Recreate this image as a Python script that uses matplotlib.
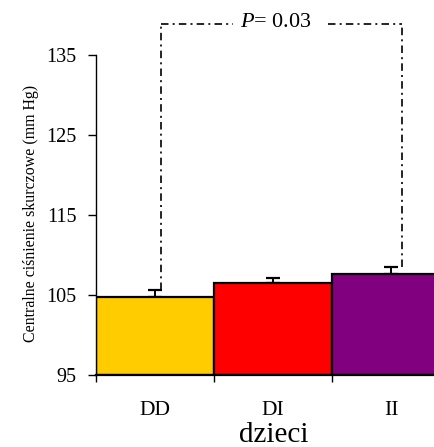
import matplotlib
matplotlib.use("Agg")
import matplotlib.pyplot as plt
import numpy as np

categories = ["DD", "DI", "II"]
values = [104.75, 106.45, 107.6]
errors = [0.85, 0.65, 0.9]
colors = ["#FFCC00", "#FF0000", "#800080"]
p_text = "0.03"

plt.rcParams["font.family"] = ["Liberation Serif", "DejaVu Serif"]
plt.rcParams["mathtext.fontset"] = "custom"
plt.rcParams["mathtext.it"] = "Liberation Serif:italic"
plt.rcParams["mathtext.rm"] = "Liberation Serif"

fig = plt.figure(figsize=(4.34, 4.47), dpi=100)
W, H = 434, 447
x0, x1 = 96, 450
y0, y1 = 375, 7
ax = fig.add_axes([x0 / W, (H - y0) / H, (x1 - x0) / W, (y0 - y1) / H])

x = np.arange(len(categories))
ax.bar(x, [v - 95 for v in values], bottom=95, width=1.0, color=colors,
       edgecolor="black", linewidth=1.6, zorder=2)
ax.errorbar(x, values, yerr=[np.zeros(len(errors)), errors], fmt="none",
            ecolor="black", elinewidth=1.4, capsize=5, capthick=1.6, zorder=1)

ax.set_xlim(-0.5, 2.5)
ax.set_ylim(95, 141)

# significance bracket
lx, rx, top = 0.05, 2.09, 138.9
ls = (0, (4.5, 2.5, 1.2, 2.5))
lw = 1.2
kw = dict(color="black", lw=lw, ls=ls, clip_on=False)
ax.plot([lx, lx], [values[0] + errors[0], top], **kw)
ax.plot([rx, rx], [values[2] + errors[2], top], **kw)
ax.plot([lx, 0.66], [top, top], **kw)
ax.plot([1.47, rx], [top, top], **kw)
ax.text(1.025, top + 0.2, r"$P$" + "= " + p_text, ha="center", va="center", fontsize=16)

for s in ["top", "right"]:
    ax.spines[s].set_visible(False)
ax.spines["left"].set_bounds(95, 135)
ax.spines["left"].set_linewidth(1.0)
ax.spines["bottom"].set_linewidth(1.6)

ax.set_yticks([95, 105, 115, 125, 135])
ax.tick_params(axis="y", direction="out", length=6, width=1.0, labelsize=14.5, pad=8)

ax.set_xticks([-0.5, 0.5, 1.5])
ax.set_xticklabels([])
ax.tick_params(axis="x", which="major", direction="out", length=5, width=1.0)
ax.set_xticks(x, minor=True)
ax.set_xticklabels(categories, minor=True)
ax.tick_params(axis="x", which="minor", length=0, labelsize=15.5, pad=19)

ax.set_xlabel("dzieci", fontsize=21)
ax.xaxis.label.set_va("center")
ax.xaxis.set_label_coords(0.501, (y0 - 435) / (y0 - y1))
ax.set_ylabel("Centralne ciśnienie skurczowe (mm Hg)", fontsize=11.4)
ax.yaxis.set_label_coords((39 - x0) / (x1 - x0), (y0 - 213) / (y0 - y1))

fig.savefig("out.png", dpi=100)
